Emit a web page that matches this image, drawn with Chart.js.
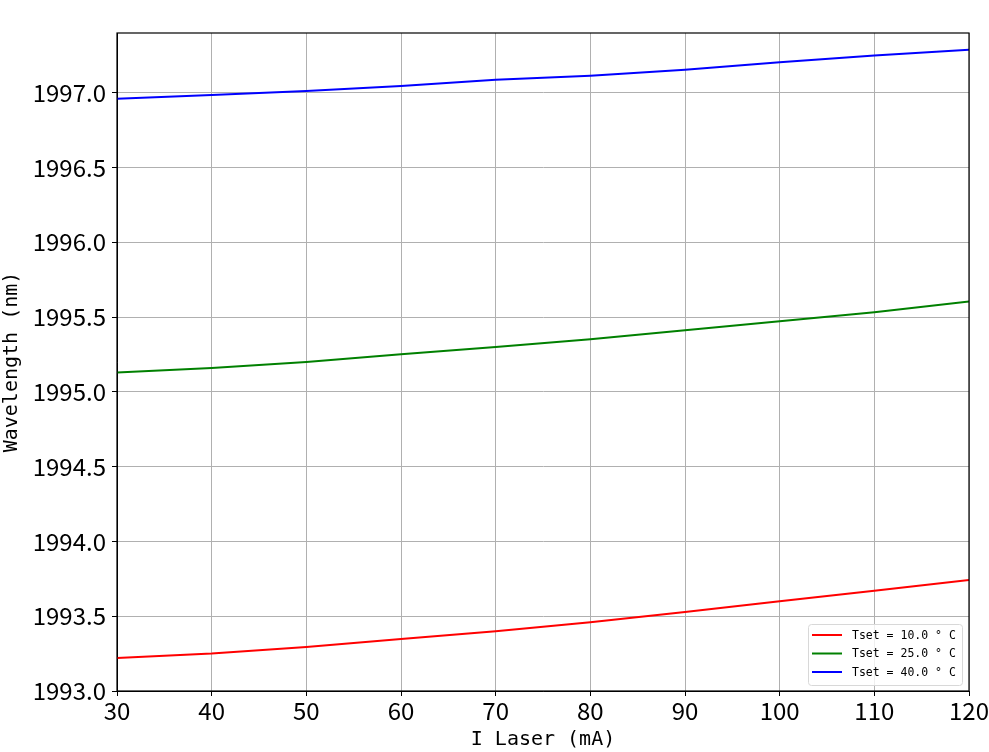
<!DOCTYPE html>
<html>
<head>
<meta charset="utf-8">
<script src="https://cdn.jsdelivr.net/npm/chart.js@4.4.1/dist/chart.umd.min.js"></script>
<style>
  html, body { margin: 0; padding: 0; background: #fff; }
  canvas { display: block; }
</style>
</head>
<body>
<canvas id="myChart" width="989" height="752"></canvas>
<script>
// current values (mA)
var currents = [30, 40, 50, 60, 70, 80, 90, 100, 110, 120];
// wavelength (nm) per set temperature
var wl10 = [1993.22, 1993.25, 1993.295, 1993.348, 1993.40, 1993.46, 1993.528, 1993.60, 1993.67, 1993.742];
var wl25 = [1995.13, 1995.16, 1995.20, 1995.252, 1995.30, 1995.352, 1995.412, 1995.472, 1995.532, 1995.605];
var wl40 = [1996.96, 1996.985, 1997.012, 1997.045, 1997.087, 1997.114, 1997.154, 1997.205, 1997.25, 1997.288];
var seriesNames = ['Tset = 10.0 ° C', 'Tset = 25.0 ° C', 'Tset = 40.0 ° C'];
var seriesColors = ['#ff0000', '#008000', '#0000ff'];
var xTicks = [30, 40, 50, 60, 70, 80, 90, 100, 110, 120];

function pts(ys) {
  return currents.map(function (c, i) { return { x: c, y: ys[i] }; });
}

var allSeries = [wl10, wl25, wl40];
var datasets = allSeries.map(function (ys, i) {
  return {
    label: seriesNames[i],
    data: pts(ys),
    borderColor: seriesColors[i],
    backgroundColor: seriesColors[i],
    borderWidth: 2,
    pointRadius: 0,
    tension: 0,
    fill: false
  };
});

var tickFont = { family: '"Noto Sans CJK SC", sans-serif', size: 24 };
var titleFont = { family: '"DejaVu Sans Mono", monospace', size: 20 };

// frame around the plot + legend in lower right corner
var framePlugin = {
  id: 'frame',
  afterDraw: function (chart) {
    var ctx = chart.ctx;
    var a = chart.chartArea;
    ctx.save();
    ctx.strokeStyle = '#000';
    ctx.lineWidth = 1.2;
    ctx.strokeRect(a.left, a.top, a.right - a.left, a.bottom - a.top);

    // legend box
    var w = 154, h = 61;
    var x0 = a.right - 7 - w, y0 = a.bottom - 6 - h;
    ctx.fillStyle = 'rgba(255,255,255,0.8)';
    ctx.strokeStyle = '#d8d8d8';
    ctx.lineWidth = 1;
    ctx.beginPath();
    ctx.roundRect(x0 + 0.5, y0 + 0.5, w, h, 3);
    ctx.fill();
    ctx.stroke();
    ctx.font = '11.5px "DejaVu Sans Mono", monospace';
    ctx.textBaseline = 'middle';
    for (var i = 0; i < seriesNames.length; i++) {
      var yy = y0 + 11 + i * 18.5;
      ctx.strokeStyle = seriesColors[i];
      ctx.lineWidth = 2;
      ctx.beginPath();
      ctx.moveTo(x0 + 4, yy);
      ctx.lineTo(x0 + 34, yy);
      ctx.stroke();
      ctx.fillStyle = '#000';
      ctx.fillText(seriesNames[i], x0 + 44, yy + 1);
    }
    ctx.restore();
  }
};

var ctx = document.getElementById('myChart').getContext('2d');
var myChart = new Chart(ctx, {
  type: 'line',
  data: { datasets: datasets },
  options: {
    responsive: false,
    animation: false,
    layout: { padding: { left: 0, right: 20, top: 33, bottom: 0 } },
    plugins: {
      legend: { display: false },
      tooltip: { enabled: false }
    },
    scales: {
      x: {
        type: 'linear',
        min: 30,
        max: 120,
        afterBuildTicks: function (scale) {
          scale.ticks = xTicks.map(function (v) { return { value: v }; });
        },
        afterFit: function (scale) { scale.height = 61; },
        ticks: { font: tickFont, color: '#000', padding: 0, maxRotation: 0 },
        grid: { color: '#b0b0b0', tickColor: '#000', tickLength: 5, lineWidth: 1 },
        border: { color: '#000' },
        title: { display: true, text: 'I Laser (mA)', font: titleFont, color: '#000', padding: { top: -4, bottom: 0 } }
      },
      y: {
        min: 1993,
        max: 1997.4,
        afterFit: function (scale) { scale.width = 117; },
        ticks: {
          stepSize: 0.5,
          includeBounds: false,
          font: tickFont,
          color: '#000',
          padding: 6,
          callback: function (v) { return v.toFixed(1); }
        },
        grid: { color: '#b0b0b0', tickColor: '#000', tickLength: 5, lineWidth: 1 },
        border: { color: '#000' },
        title: { display: true, text: 'Wavelength (nm)', font: titleFont, color: '#000', padding: { top: 0, bottom: 0 } }
      }
    }
  },
  plugins: [framePlugin]
});
</script>
</body>
</html>
